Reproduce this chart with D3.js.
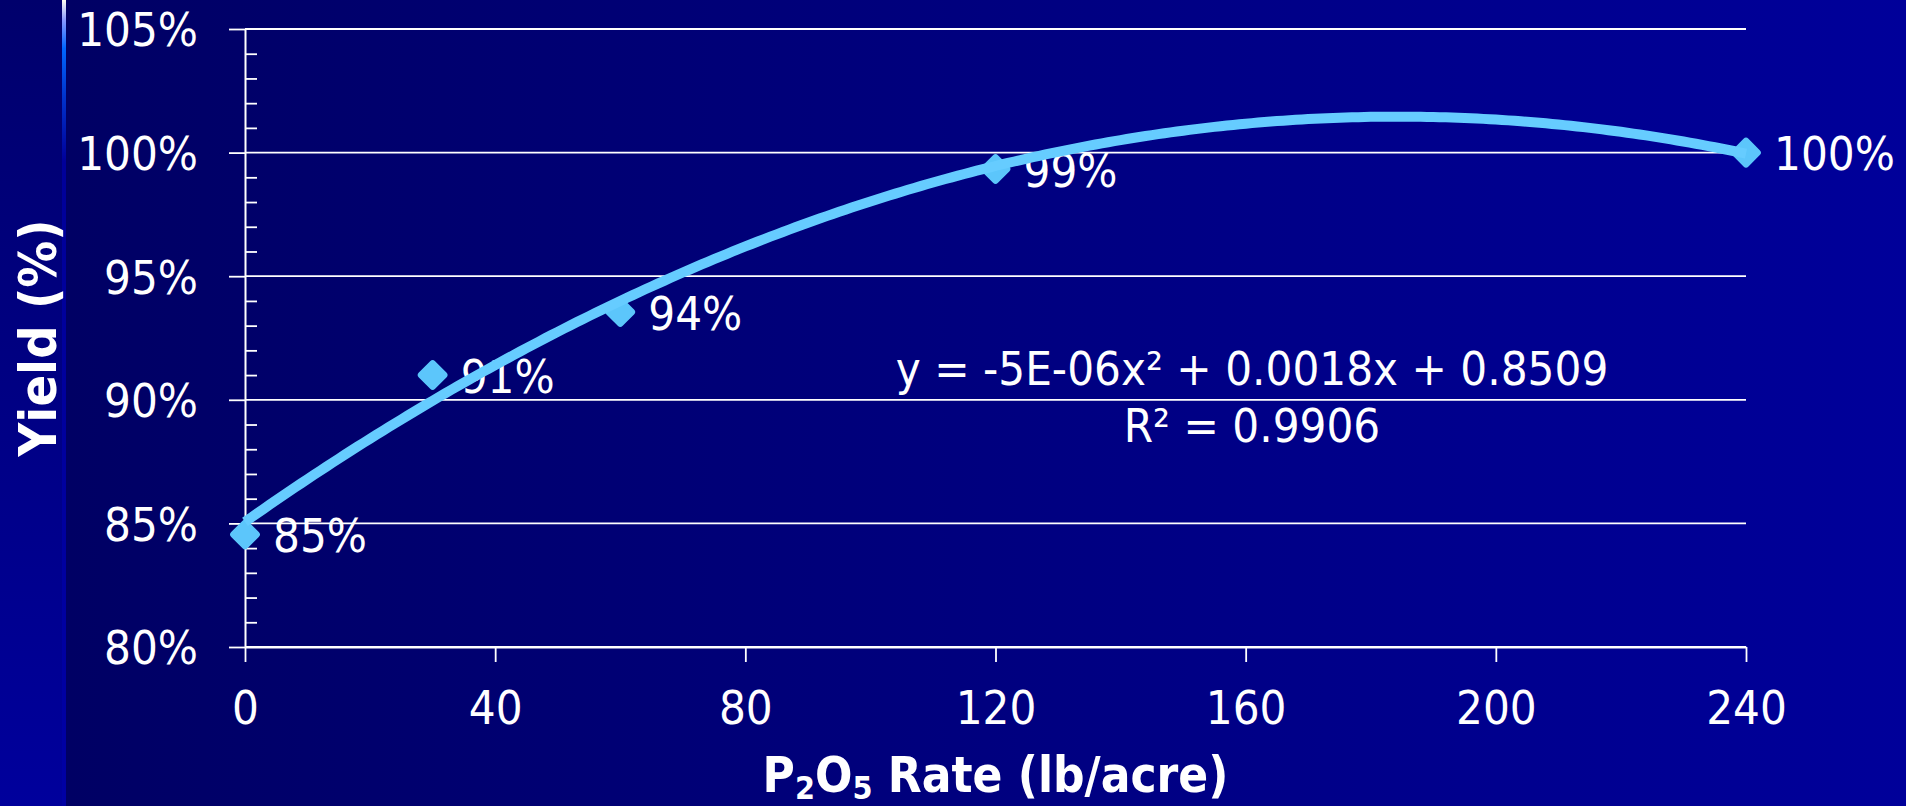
<!DOCTYPE html>
<html>
<head>
<meta charset="utf-8">
<script src="https://cdn.jsdelivr.net/npm/d3@7/dist/d3.min.js"></script>
<style>
  html, body { margin: 0; padding: 0; overflow: hidden; background: #000066; }
  svg { display: block; }
  text { font-family: "DejaVu Sans Condensed", "DejaVu Sans", sans-serif; fill: #ffffff; }
</style>
</head>
<body>
<svg id="chart" width="1906" height="806"></svg>
<script>
// ---- data ----
const rates = [0, 30, 60, 120, 240];                 // P2O5 rate (lb/acre)
const yields = [0.8455, 0.910, 0.9355, 0.9934, 1.000]; // relative yield
const xTicks = [0, 40, 80, 120, 160, 200, 240];
const yTicks = [0.80, 0.85, 0.90, 0.95, 1.00, 1.05];
const equationLines = ["y = -5E-06x\u00B2 + 0.0018x + 0.8509", "R\u00B2 = 0.9906"];
const xTitle = ["P", "2", "O", "5", " Rate (lb/acre)"];
const yTitle = "Yield (%)";

// ---- layout ----
const W = 1906, H = 806;
const svg = d3.select("#chart");
const x = d3.scaleLinear().domain([0, 240]).range([245, 1746]);
const y = d3.scaleLinear().domain([0.80, 1.05]).range([647, 29]);
const pct = d3.format(".0%");

// ---- background ----
const defs = svg.append("defs");
const bgGrad = defs.append("linearGradient").attr("id", "bg").attr("x1", 0).attr("x2", 1).attr("y1", 0).attr("y2", 0);
bgGrad.append("stop").attr("offset", "0%").attr("stop-color", "#000062");
bgGrad.append("stop").attr("offset", "100%").attr("stop-color", "#00009a");
const stripGrad = defs.append("linearGradient").attr("id", "strip").attr("x1", 0).attr("x2", 0).attr("y1", 0).attr("y2", 1);
stripGrad.append("stop").attr("offset", "0%").attr("stop-color", "#00006c");
stripGrad.append("stop").attr("offset", "100%").attr("stop-color", "#00009c");
const lineGrad = defs.append("linearGradient").attr("id", "vline").attr("x1", 0).attr("x2", 0).attr("y1", 0).attr("y2", 1);
lineGrad.append("stop").attr("offset", "0%").attr("stop-color", "#fffff0");
lineGrad.append("stop").attr("offset", "2.5%").attr("stop-color", "#8899ff");
lineGrad.append("stop").attr("offset", "6%").attr("stop-color", "#0066ff");
lineGrad.append("stop").attr("offset", "12%").attr("stop-color", "#0033cc");
lineGrad.append("stop").attr("offset", "20%").attr("stop-color", "#000099");
lineGrad.append("stop").attr("offset", "100%").attr("stop-color", "#0000a4");

svg.append("rect").attr("width", W).attr("height", H).attr("fill", "url(#bg)");
svg.append("rect").attr("x", 0).attr("y", 0).attr("width", 62).attr("height", H).attr("fill", "url(#strip)");
svg.append("rect").attr("x", 62).attr("y", 0).attr("width", 4).attr("height", H).attr("fill", "url(#vline)");

// ---- grid ----
const [x0, x1] = x.range();
svg.append("g").selectAll("line").data(yTicks).join("line")
  .attr("x1", x0).attr("x2", x1)
  .attr("y1", d => y(d)).attr("y2", d => y(d))
  .attr("stroke", "#ffffff").attr("stroke-width", 1.8);

// ---- y axis ----
const yAxis = svg.append("g").attr("transform", `translate(${x0},0)`)
  .call(d3.axisLeft(y).tickValues(yTicks).tickFormat(pct).tickSize(16).tickSizeOuter(0).tickPadding(31));
yAxis.selectAll("text").style("font-size", "47px").attr("dy", "0.36em");

const minorTicks = d3.range(81, 105).filter(v => v % 5 !== 0).map(v => v / 100);
svg.append("g").attr("transform", `translate(${x0},0)`)
  .call(d3.axisRight(y).tickValues(minorTicks).tickFormat("").tickSize(12).tickSizeOuter(0))
  .select(".domain").remove();

// ---- x axis ----
const xAxis = svg.append("g").attr("transform", `translate(0,${y(0.80)})`)
  .call(d3.axisBottom(x).tickValues(xTicks).tickFormat(d3.format("d")).tickSize(15).tickSizeOuter(0).tickPadding(29));
xAxis.selectAll("text").style("font-size", "47px");

svg.selectAll(".domain").attr("stroke", "#ffffff").attr("stroke-width", 2);
svg.selectAll(".tick line").attr("stroke", "#ffffff").attr("stroke-width", 1.8);
svg.selectAll(".tick text").attr("fill", "#ffffff").style("font-family", "'DejaVu Sans Condensed', 'DejaVu Sans', sans-serif");

// ---- markers ----
const pts = rates.map((r, i) => ({ r, v: yields[i] }));
const side = 23;
svg.append("g").selectAll("rect").data(pts).join("rect")
  .attr("x", -side / 2).attr("y", -side / 2).attr("width", side).attr("height", side)
  .attr("rx", 3.5)
  .attr("transform", d => `translate(${x(d.r)},${y(d.v)}) rotate(45)`)
  .attr("fill", "#5cc6fb");

// ---- data labels ----
svg.append("g").selectAll("text").data(pts).join("text")
  .attr("x", d => x(d.r) + 28).attr("y", d => y(d.v))
  .attr("dy", "0.38em")
  .style("font-size", "47px")
  .text(d => pct(d.v));

// ---- quadratic trendline (least squares fit of the data) ----
function quadFit(xs, ys) {
  const S = k => d3.sum(xs, v => Math.pow(v, k));
  const T = k => d3.sum(xs, (v, i) => Math.pow(v, k) * ys[i]);
  const A = [[S(0), S(1), S(2)], [S(1), S(2), S(3)], [S(2), S(3), S(4)]];
  const B = [T(0), T(1), T(2)];
  for (let i = 0; i < 3; i++) {
    for (let j = i + 1; j < 3; j++) {
      const f = A[j][i] / A[i][i];
      for (let k = i; k < 3; k++) A[j][k] -= f * A[i][k];
      B[j] -= f * B[i];
    }
  }
  const c = [0, 0, 0];
  for (let i = 2; i >= 0; i--) {
    let s = B[i];
    for (let k = i + 1; k < 3; k++) s -= A[i][k] * c[k];
    c[i] = s / A[i][i];
  }
  return c;
}
const coef = quadFit(rates, yields);
const trend = x.ticks(240).map(r => ({ r, v: coef[0] + coef[1] * r + coef[2] * r * r }));
svg.append("path").datum(trend)
  .attr("d", d3.line().x(d => x(d.r)).y(d => y(d.v)).curve(d3.curveLinear))
  .attr("fill", "none").attr("stroke", "#66ccff").attr("stroke-width", 10)
  .attr("stroke-linejoin", "round").attr("stroke-linecap", "butt");

// ---- equation ----
svg.append("g").selectAll("text").data(equationLines).join("text")
  .attr("x", 1252).attr("y", (d, i) => 385 + i * 57)
  .attr("text-anchor", "middle")
  .style("font-size", "47px")
  .text(d => d);

// ---- axis titles ----
const xt = svg.append("text")
  .attr("x", x(120)).attr("y", 792)
  .attr("text-anchor", "middle")
  .style("font-size", "49px").style("font-weight", "bold");
xTitle.forEach((s, i) => {
  const sub = (i === 1 || i === 3);
  const prevSub = (i === 2 || i === 4);
  xt.append("tspan")
    .attr("dy", sub ? 7 : (prevSub ? -7 : 0))
    .style("font-size", sub ? "32px" : "49px")
    .text(s);
});

svg.append("text")
  .attr("transform", `translate(56,${(y.range()[0] + y.range()[1]) / 2}) rotate(-90)`)
  .attr("text-anchor", "middle")
  .style("font-size", "52px").style("font-weight", "bold")
  .text(yTitle);
</script>
</body>
</html>
